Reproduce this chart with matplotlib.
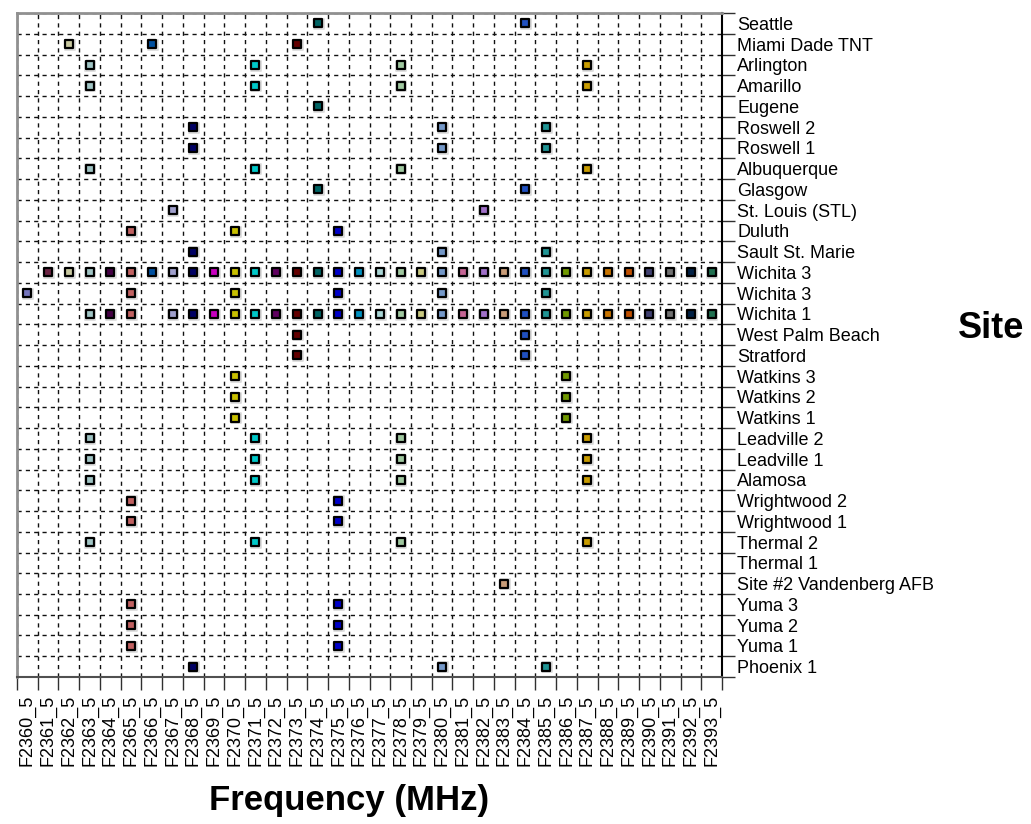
import matplotlib
matplotlib.use("Agg")
import matplotlib.pyplot as plt
from matplotlib.markers import MarkerStyle
import numpy as np

# frequency columns (x axis)
freqs = ["F2360_5", "F2361_5", "F2362_5", "F2363_5", "F2364_5", "F2365_5",
         "F2366_5", "F2367_5", "F2368_5", "F2369_5", "F2370_5", "F2371_5",
         "F2372_5", "F2373_5", "F2374_5", "F2375_5", "F2376_5", "F2377_5",
         "F2378_5", "F2379_5", "F2380_5", "F2381_5", "F2382_5", "F2383_5",
         "F2384_5", "F2385_5", "F2386_5", "F2387_5", "F2388_5", "F2389_5",
         "F2390_5", "F2391_5", "F2392_5", "F2393_5"]

# one colour per frequency
freq_colors = ["#7474bc", "#6c2444", "#c8c8a0", "#a0c4c4", "#440044", "#c06060",
               "#0050a0", "#a0a0cc", "#000064", "#c800c0", "#c8c000", "#00c8c8",
               "#600060", "#640000", "#006464", "#0000c8", "#0090c0", "#a8d4d4",
               "#a0c8a0", "#c8c880", "#7498c8", "#c46494", "#a070c8", "#c89c78",
               "#2050c0", "#209494", "#709800", "#c89c00", "#c87400", "#c05000",
               "#404070", "#707070", "#002044", "#207050"]

# sites (top to bottom)
sites = ["Seattle", "Miami Dade TNT", "Arlington", "Amarillo", "Eugene",
         "Roswell 2", "Roswell 1", "Albuquerque", "Glasgow", "St. Louis (STL)",
         "Duluth", "Sault St. Marie", "Wichita 3", "Wichita 3", "Wichita 1",
         "West Palm Beach", "Stratford", "Watkins 3", "Watkins 2", "Watkins 1",
         "Leadville 2", "Leadville 1", "Alamosa", "Wrightwood 2", "Wrightwood 1",
         "Thermal 2", "Thermal 1", "Site #2 Vandenberg AFB", "Yuma 3", "Yuma 2",
         "Yuma 1", "Phoenix 1"]

# frequencies used at each site (MHz, integer part)
site_freqs = [
    [2374, 2384],
    [2362, 2366, 2373],
    [2363, 2371, 2378, 2387],
    [2363, 2371, 2378, 2387],
    [2374],
    [2368, 2380, 2385],
    [2368, 2380, 2385],
    [2363, 2371, 2378, 2387],
    [2374, 2384],
    [2367, 2382],
    [2365, 2370, 2375],
    [2368, 2380, 2385],
    [2361, 2362, 2363, 2364, 2365, 2366, 2367, 2368, 2369, 2370, 2371, 2372,
     2373, 2374, 2375, 2376, 2377, 2378, 2379, 2380, 2381, 2382, 2383, 2384,
     2385, 2386, 2387, 2388, 2389, 2390, 2391, 2392, 2393],
    [2360, 2365, 2370, 2375, 2380, 2385],
    [2363, 2364, 2365, 2367, 2368, 2369, 2370, 2371, 2372, 2373, 2374, 2375,
     2376, 2377, 2378, 2379, 2380, 2381, 2382, 2383, 2384, 2385, 2386, 2387,
     2388, 2389, 2390, 2391, 2392, 2393],
    [2373, 2384],
    [2373, 2384],
    [2370, 2386],
    [2370, 2386],
    [2370, 2386],
    [2363, 2371, 2378, 2387],
    [2363, 2371, 2378, 2387],
    [2363, 2371, 2378, 2387],
    [2365, 2375],
    [2365, 2375],
    [2363, 2371, 2378, 2387],
    [],
    [2383],
    [2365, 2375],
    [2365, 2375],
    [2365, 2375],
    [2368, 2380, 2385],
]

plt.rcParams["font.family"] = ["Liberation Sans", "DejaVu Sans"]

fig = plt.figure(figsize=(10.31, 8.24), dpi=100)
ax = fig.add_axes([0.0165, 0.1784, 0.6838, 0.8058])

sq = MarkerStyle("s", joinstyle="round")
for row, fl in enumerate(site_freqs):
    for f in fl:
        col = freqs.index(f"F{f}_5")
        # faint grey halo like the original
        ax.plot(col + 0.04, row + 0.04, marker=sq, ms=7, color="#dadada",
                mec="#dadada", mew=1.2, ls="none", zorder=3)
        ax.plot(col, row, marker=sq, ms=6, color=freq_colors[col],
                mec="black", mew=1.6, ls="none", zorder=4)

n_x = len(freqs)
n_y = len(sites)
ax.set_xlim(-0.5, n_x - 0.5)
ax.set_ylim(n_y - 0.5, -0.5)

ax.set_xticks(np.arange(n_x))
ax.set_xticklabels(freqs, rotation=90, fontsize=13)
ax.set_xticks(np.arange(-0.5, n_x, 1), minor=True)

ax.yaxis.tick_right()
ax.set_yticks(np.arange(n_y))
ax.set_yticklabels(sites, fontsize=13)
ax.set_yticks(np.arange(-0.5, n_y, 1), minor=True)

ax.tick_params(which="major", length=0)
ax.tick_params(axis="x", which="major", pad=13)
ax.tick_params(axis="y", which="major", pad=11)
ax.tick_params(which="minor", length=9, width=1, direction="out",
               color="#303030")
ax.tick_params(axis="y", which="minor", left=False, right=True)

ax.grid(which="minor", color="#111111", linestyle=(0, (3, 3)), linewidth=1)
ax.set_axisbelow(True)

for side in ["left", "top"]:
    ax.spines[side].set_color("#909090")
    ax.spines[side].set_linewidth(2)
ax.spines["right"].set_color("black")
ax.spines["right"].set_linewidth(1.5)
ax.spines["bottom"].set_color("#505050")
ax.spines["bottom"].set_linewidth(1.5)

fig.text(0.3385, 0.029, "Frequency (MHz)", fontsize=25, fontweight="bold",
         ha="center", va="center")
fig.text(0.929, 0.601, "Site", fontsize=26, fontweight="bold",
         ha="left", va="center")

fig.savefig("out.png", dpi=100)
